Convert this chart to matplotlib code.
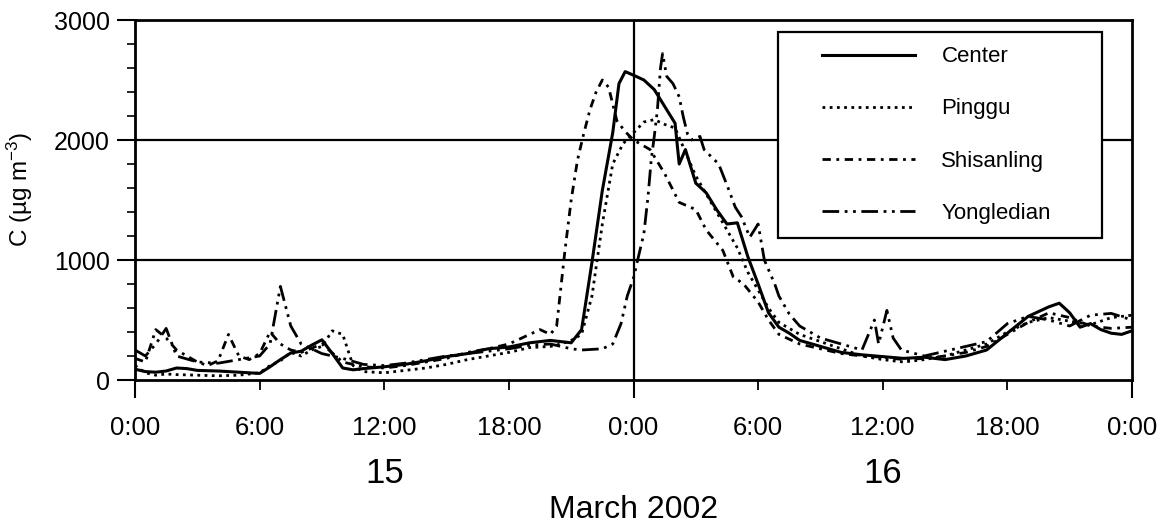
import matplotlib

matplotlib.use("Agg")

import matplotlib.pyplot as plt
import numpy as np
from matplotlib.legend_handler import HandlerLine2D
from matplotlib.ticker import MultipleLocator, FixedLocator, FixedFormatter
from matplotlib.transforms import blended_transform_factory

plt.rcParams["font.family"] = ["Liberation Sans", "DejaVu Sans"]
plt.rcParams["mathtext.default"] = "regular"

# hours since 0:00, 15 March 2002
center_t = [0, 0.5, 1, 1.5, 2, 2.5, 3, 4, 5, 6, 6.5, 7, 7.5, 8, 8.5, 9, 9.5, 10, 10.5, 11,
            12, 13, 14, 15, 16, 17, 18, 19, 20, 20.5, 21, 21.5, 22, 22.5, 23, 23.3, 23.6,
            24, 24.5, 25, 25.5, 26, 26.2, 26.5, 27, 27.5, 28, 28.5, 29, 29.5, 30, 30.5, 31,
            31.5, 32, 33, 34, 35, 36, 37, 38, 39, 40, 41, 42, 43, 44, 44.5, 45, 45.5, 46,
            46.5, 47, 47.5, 48]
center_c = [90, 70, 65, 75, 100, 95, 80, 75, 65, 55, 110, 170, 225, 240, 290, 335, 220, 100, 85, 95,
            110, 130, 160, 195, 220, 260, 275, 310, 330, 320, 310, 420, 980, 1580, 2060, 2470, 2570,
            2540, 2500, 2420, 2280, 2140, 1800, 1920, 1640, 1560, 1420, 1300, 1310, 1030, 800, 560, 440,
            390, 330, 280, 230, 210, 195, 180, 190, 170, 200, 250, 390, 530, 610, 640, 560, 440, 470,
            420, 390, 380, 410]

pinggu_t = [0, 0.5, 1, 1.5, 2, 3, 4, 5, 6, 6.5, 7, 7.5, 8, 8.5, 9, 9.5, 10, 10.5, 11, 12, 13,
            14, 15, 16, 17, 18, 19, 20, 20.5, 21, 21.5, 22, 22.5, 23, 23.5, 24, 24.5, 25, 25.5,
            26, 26.5, 27, 27.5, 28, 28.5, 29, 29.5, 30, 30.5, 31, 32, 33, 34, 35, 36, 37, 38,
            39, 40, 41, 42, 43, 44, 45, 46, 47, 48]
pinggu_c = [120, 60, 40, 50, 45, 40, 35, 40, 60, 120, 160, 230, 200, 250, 280, 410, 380, 120, 70, 60, 80,
            100, 130, 170, 200, 230, 270, 280, 300, 330, 380, 700, 1300, 1800, 1970, 2060, 2150, 2170, 2130,
            2100, 1900, 1700, 1550, 1400, 1250, 1100, 900, 750, 600, 480, 380, 320, 260, 200, 170, 150, 170,
            200, 250, 300, 400, 480, 520, 490, 460, 520, 540]

shisanling_t = [0, 0.5, 1, 1.5, 2, 2.5, 3, 3.5, 4, 4.5, 5, 5.5, 6, 6.5, 7, 7.5, 8, 9, 10, 11, 12,
                13, 14, 15, 16, 17, 18, 19, 19.5, 20, 20.3, 20.7, 21, 21.3, 21.6, 21.9, 22.2, 22.5,
                22.8, 23.2, 23.6, 24, 24.8, 25.5, 26.2, 27, 27.5, 28.3, 28.8, 29.3, 30, 30.5, 31,
                32, 33, 34, 35, 36, 37, 38, 39, 40, 41, 42, 43, 44, 45, 46, 47, 48]
shisanling_c = [180, 150, 420, 350, 250, 200, 150, 120, 160, 380, 200, 170, 220, 400, 300, 250, 230, 300, 150, 110, 100,
                120, 150, 180, 230, 260, 300, 380, 420, 380, 450, 1080, 1500, 1830, 2050, 2250, 2400, 2500,
                2440, 2160, 2070, 2000, 1920, 1720, 1480, 1420, 1250, 1080, 860, 800, 650, 500, 380,
                300, 260, 220, 200, 190, 170, 180, 200, 230, 280, 380, 480, 560, 520, 450, 430, 440]

yongledian_t = [0, 0.5, 1, 1.5, 2, 3, 4, 5, 6, 6.5, 7, 7.5, 8, 8.5, 9, 10, 11, 12, 13, 14, 15, 16,
                17, 18, 19, 20, 20.5, 21, 21.5, 22, 22.5, 23, 23.4, 23.7, 24, 24.2, 24.5, 24.7, 24.85,
                25, 25.15, 25.3, 25.4, 25.6, 25.9, 26.2, 26.4, 26.6, 26.8, 27.2, 27.4, 28.1, 28.6, 28.9,
                29.2, 29.6, 30, 30.3, 30.8, 31, 31.5, 32, 33, 34, 35, 35.6, 35.8, 36.2, 36.5, 36.9, 38,
                39, 40, 41, 42, 43, 44, 45, 46, 47, 48]
yongledian_c = [250, 200, 300, 430, 200, 150, 140, 170, 200, 300, 780, 450, 300, 260, 220, 180, 130, 120, 140, 170, 200, 220,
                240, 260, 290, 300, 280, 260, 250, 255, 260, 300, 470, 700, 850, 1000, 1220, 1530, 1830,
                2030, 2250, 2600, 2720, 2530, 2470, 2360, 2190, 2050, 2000, 2030, 1920, 1800, 1580, 1440,
                1360, 1190, 1300, 1000, 800, 700, 550, 450, 350, 300, 250, 500, 300, 580, 350, 250, 200,
                240, 280, 320, 470, 530, 500, 450, 540, 555, 500]

hour_labels = ["0:00", "6:00", "12:00", "18:00", "0:00", "6:00", "12:00", "18:00", "0:00"]
day_labels = ["15", "16"]


class ShiftedLine(HandlerLine2D):
    # legend sample line that starts a little in from the frame edge
    def create_artists(self, legend, orig_handle, xdescent, ydescent, width, height, fontsize, trans):
        artists = super().create_artists(legend, orig_handle, xdescent, ydescent, width, height,
                                         fontsize, trans)
        shift = 0.24 * width
        for a in artists:
            x = np.asarray(a.get_xdata(), dtype=float)
            a.set_xdata(-xdescent + shift + (x + xdescent) * (width - shift) / width)
        return artists


fig = plt.figure(figsize=(11.62, 5.26), dpi=100)
ax = fig.add_axes([135 / 1162, 146 / 526, 997 / 1162, 360 / 526])

ax.plot(center_t, center_c, color="black", lw=2.2, label="Center")
ax.plot(pinggu_t, pinggu_c, color="black", lw=2.0, linestyle=(0, (1, 1.6)), label="Pinggu")
ax.plot(shisanling_t, shisanling_c, color="black", lw=2.0, linestyle=(0, (3, 2, 1, 2)), label="Shisanling")
ax.plot(yongledian_t, yongledian_c, color="black", lw=2.0, linestyle=(0, (6, 2, 1, 2, 1, 2)), label="Yongledian")

ax.axhline(1000, color="black", lw=1.6, zorder=1)
ax.axhline(2000, color="black", lw=1.6, zorder=1)
ax.axvline(24, color="black", lw=1.6, zorder=1)

ax.set_xlim(0, 48)
ax.set_ylim(0, 3000)
for s in ax.spines.values():
    s.set_linewidth(2)

ax.yaxis.set_major_locator(MultipleLocator(1000))
ax.yaxis.set_minor_locator(MultipleLocator(200))
ax.tick_params(axis="y", which="major", length=13, width=1.5, labelsize=18, pad=5)
ax.tick_params(axis="y", which="minor", length=6, width=1.2)

day_ticks = [0, 24, 48]
hour_ticks = [6, 12, 18, 30, 36, 42]
ax.xaxis.set_major_locator(FixedLocator(day_ticks))
ax.xaxis.set_major_formatter(FixedFormatter([hour_labels[0], hour_labels[4], hour_labels[8]]))
ax.xaxis.set_minor_locator(FixedLocator(hour_ticks))
ax.xaxis.set_minor_formatter(FixedFormatter([hour_labels[i] for i in (1, 2, 3, 5, 6, 7)]))
ax.tick_params(axis="x", which="major", length=13, width=1.5, labelsize=18.5, pad=13)
ax.tick_params(axis="x", which="minor", length=7, width=1.3, labelsize=18.5, pad=19)

trans = blended_transform_factory(ax.transData, ax.transAxes)
ax.text(12, -0.26, day_labels[0], transform=trans, ha="center", va="center", fontsize=25)
ax.text(36, -0.26, day_labels[1], transform=trans, ha="center", va="center", fontsize=25)
ax.text(24, -0.36, "March 2002", transform=trans, ha="center", va="center", fontsize=23)

ax.set_ylabel("C (µg m$^{-3}$)", fontsize=17.5)
ax.yaxis.set_label_coords(-0.1, 0.53)

leg = ax.legend(loc="upper left", bbox_to_anchor=(0.645, 0.967, 0.325, 0.0), mode="expand",
                borderaxespad=0, fontsize=16, handlelength=5.5, handletextpad=1.2,
                labelspacing=1.4, borderpad=0.65, fancybox=False, framealpha=1, edgecolor="black",
                handler_map={plt.Line2D: ShiftedLine()})
leg.get_frame().set_linewidth(1.6)

fig.savefig("out.png", dpi=100)
